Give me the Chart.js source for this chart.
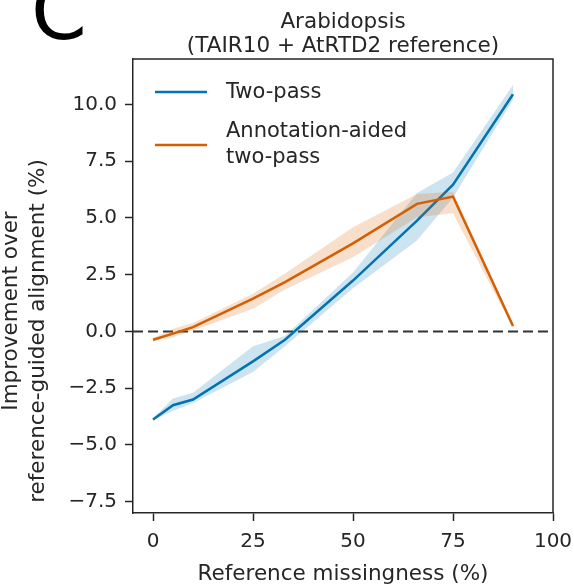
<!DOCTYPE html>
<html>
<head>
<meta charset="utf-8">
<script src="https://cdn.jsdelivr.net/npm/chart.js@4.4.1/dist/chart.umd.min.js"></script>
<style>
  html, body { margin: 0; padding: 0; background: #fff; }
  #wrap { width: 574px; height: 584px; }
</style>
</head>
<body>
<div id="wrap"><canvas id="myChart" width="574" height="584"></canvas></div>
<script>
// reference missingness (%)
const missingness = [0, 5, 10, 25, 33, 50, 66, 75, 90];

// Two-pass: mean and confidence band
const twoPass      = [-3.88, -3.25, -3.0, -1.32, -0.37, 2.24, 4.88, 6.46, 10.45];
const twoPassLow   = [-3.93, -3.5, -3.15, -1.79, -0.65, 1.9, 4.0, 5.9, 10.2];
const twoPassHigh  = [-3.83, -2.96, -2.7, -0.65, -0.2, 2.6, 6.1, 7.0, 10.85];

// Annotation-aided two-pass: mean and confidence band
const annotAided     = [-0.37, -0.1, 0.19, 1.44, 2.17, 3.88, 5.62, 5.94, 0.24];
const annotAidedLow  = [-0.45, -0.25, 0.04, 1.0, 1.85, 3.27, 5.03, 5.2, 0.15];
const annotAidedHigh = [-0.3, 0.12, 0.37, 1.66, 2.55, 4.59, 6.05, 6.15, 0.35];

const xTicks = [0, 25, 50, 75, 100];
const yTicks = [-7.5, -5.0, -2.5, 0.0, 2.5, 5.0, 7.5, 10.0];

const BLUE = 'rgb(1, 115, 178)';
const BLUE_FILL = 'rgba(1, 115, 178, 0.2)';
const ORANGE = 'rgb(213, 94, 0)';
const ORANGE_FILL = 'rgba(213, 94, 0, 0.2)';
const INK = '#262626';
const FONT = '"DejaVu Sans", sans-serif';

function pts(ys) {
    return missingness.map(function(x, i) {
        return { x: x, y: ys[i] };
    });
}

function band(ys, color, order) {
    return {
        data: pts(ys),
        borderWidth: 0,
        pointRadius: 0,
        backgroundColor: color,
        fill: false,
        order: order
    };
}

// draws title, panel letter, axis titles, legend, spines and the zero line
const decor = {
    id: 'decor',
    beforeDatasetsDraw(chart) {
        const ctx = chart.ctx;
        const area = chart.chartArea;
        const y0 = chart.scales.y.getPixelForValue(0);
        ctx.save();
        ctx.strokeStyle = '#333';
        ctx.lineWidth = 2;
        ctx.setLineDash([10, 5]);
        ctx.beginPath();
        ctx.moveTo(area.left, y0);
        ctx.lineTo(area.right, y0);
        ctx.stroke();
        ctx.restore();
    },
    afterDraw(chart) {
        const ctx = chart.ctx;
        const area = chart.chartArea;
        ctx.save();

        // top and right spines
        ctx.strokeStyle = INK;
        ctx.lineWidth = 1.5;
        ctx.beginPath();
        ctx.moveTo(area.left, area.top);
        ctx.lineTo(area.right, area.top);
        ctx.lineTo(area.right, area.bottom);
        ctx.stroke();

        ctx.fillStyle = '#000';
        ctx.textAlign = 'left';
        ctx.textBaseline = 'alphabetic';
        ctx.font = '80px ' + FONT;
        ctx.fillText('C', 31, 39);

        ctx.fillStyle = INK;
        ctx.textAlign = 'center';
        ctx.font = '21.5px ' + FONT;
        const cx = (area.left + area.right) / 2;
        ctx.fillText('Arabidopsis', cx, 27.5);
        ctx.fillText('(TAIR10 + AtRTD2 reference)', cx, 51.5);

        ctx.fillText('Reference missingness (%)', cx, 580);

        ctx.save();
        ctx.translate(17, 311);
        ctx.rotate(-Math.PI / 2);
        ctx.fillText('Improvement over', 0, 0);
        ctx.restore();
        ctx.save();
        ctx.translate(44, 331);
        ctx.rotate(-Math.PI / 2);
        ctx.fillText('reference-guided alignment (%)', 0, 0);
        ctx.restore();

        // legend
        ctx.font = '21px ' + FONT;
        ctx.lineWidth = 2.5;
        ctx.strokeStyle = BLUE;
        ctx.beginPath();
        ctx.moveTo(155, 92);
        ctx.lineTo(207, 92);
        ctx.stroke();
        ctx.strokeStyle = ORANGE;
        ctx.beginPath();
        ctx.moveTo(155, 145);
        ctx.lineTo(207, 145);
        ctx.stroke();
        ctx.textAlign = 'left';
        ctx.textBaseline = 'middle';
        ctx.fillText('Two-pass', 226, 93);
        ctx.fillText('Annotation-aided', 226, 132);
        ctx.fillText('two-pass', 226, 158);

        ctx.restore();
    }
};

const data = {
    datasets: [
        band(twoPassLow, BLUE_FILL, 4),
        Object.assign(band(twoPassHigh, BLUE_FILL, 4), { fill: '-1' }),
        {
            label: 'Two-pass',
            data: pts(twoPass),
            borderColor: BLUE,
            borderWidth: 2.5,
            pointRadius: 0,
            fill: false,
            order: 3
        },
        band(annotAidedLow, ORANGE_FILL, 2),
        Object.assign(band(annotAidedHigh, ORANGE_FILL, 2), { fill: '-1' }),
        {
            label: 'Annotation-aided two-pass',
            data: pts(annotAided),
            borderColor: ORANGE,
            borderWidth: 2.5,
            pointRadius: 0,
            fill: false,
            order: 1
        }
    ]
};

const config = {
    type: 'line',
    data: data,
    plugins: [decor],
    options: {
        responsive: false,
        animation: false,
        layout: { padding: { top: 59, right: 21, bottom: 0, left: 0 } },
        plugins: {
            legend: { display: false },
            tooltip: { enabled: false }
        },
        scales: {
            x: {
                type: 'linear',
                min: -5,
                max: 100,
                afterFit: function(scale) {
                    scale.height = 71;
                    scale.paddingLeft = 0;
                    scale.paddingRight = 0;
                },
                afterBuildTicks: function(scale) {
                    scale.ticks = xTicks.map(function(v) { return { value: v }; });
                },
                grid: {
                    drawOnChartArea: false,
                    tickLength: 8,
                    tickWidth: 1.5,
                    tickColor: INK
                },
                border: { color: INK, width: 1.5 },
                ticks: {
                    color: INK,
                    padding: 9,
                    maxRotation: 0,
                    font: { family: FONT, size: 20 },
                    callback: function(v) { return String(v); }
                }
            },
            y: {
                type: 'linear',
                min: -8,
                max: 12,
                afterFit: function(scale) {
                    scale.width = 133;
                    scale.paddingTop = 0;
                    scale.paddingBottom = 0;
                },
                afterBuildTicks: function(scale) {
                    scale.ticks = yTicks.map(function(v) { return { value: v }; });
                },
                grid: {
                    drawOnChartArea: false,
                    tickLength: 8,
                    tickWidth: 1.5,
                    tickColor: INK
                },
                border: { color: INK, width: 1.5 },
                ticks: {
                    color: INK,
                    padding: 8,
                    font: { family: FONT, size: 20 },
                    callback: function(v) { return v.toFixed(1).replace('-', '\u2212'); }
                }
            }
        }
    }
};

const myChart = new Chart(document.getElementById('myChart'), config);
</script>
</body>
</html>
